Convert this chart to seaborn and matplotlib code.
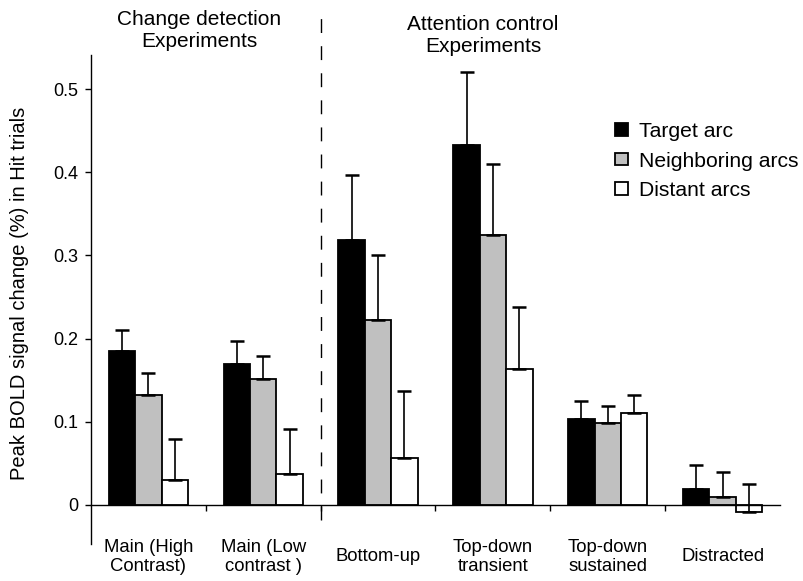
import matplotlib
matplotlib.use("Agg")
import matplotlib.pyplot as plt
from matplotlib.patches import Patch
import numpy as np
import pandas as pd
import seaborn as sns

# ---- data ----
conditions = ["Main (High\nContrast)", "Main (Low\ncontrast )", "Bottom-up",
              "Top-down\ntransient", "Top-down\nsustained", "Distracted"]
series = ["Target arc", "Neighboring arcs", "Distant arcs"]
target_vals = [0.185, 0.170, 0.319, 0.433, 0.103, 0.019]
neighbor_vals = [0.132, 0.151, 0.222, 0.324, 0.098, 0.009]
distant_vals = [0.030, 0.037, 0.056, 0.164, 0.111, -0.008]
target_err = [0.025, 0.027, 0.078, 0.088, 0.022, 0.029]
neighbor_err = [0.027, 0.028, 0.078, 0.086, 0.021, 0.030]
distant_err = [0.049, 0.054, 0.081, 0.074, 0.021, 0.033]
ytick_vals = [0, 0.1, 0.2, 0.3, 0.4, 0.5]
ytick_labels = ["0", "0.1", "0.2", "0.3", "0.4", "0.5"]
group_titles = ["Change detection\nExperiments", "Attention control\nExperiments"]

colors = ["black", "#c0c0c0", "white"]

df = pd.DataFrame({
    "condition": conditions * 3,
    "series": [s for s in series for _ in conditions],
    "value": target_vals + neighbor_vals + distant_vals,
})
errs = [target_err, neighbor_err, distant_err]
vals = [target_vals, neighbor_vals, distant_vals]

sns.set_theme(style="white")
plt.rcParams["font.family"] = ["Liberation Sans", "DejaVu Sans"]
plt.rcParams["text.color"] = "black"
plt.rcParams["axes.labelcolor"] = "black"
plt.rcParams["xtick.color"] = "black"
plt.rcParams["ytick.color"] = "black"

W, H = 804, 581
fig = plt.figure(figsize=(W / 100, H / 100), dpi=100)
# axes in pixel coords: left 91, right 780, top 55, bottom 544
ax = fig.add_axes([91 / W, 1 - 544 / H, (780 - 91) / W, (544 - 55) / H])

sns.barplot(data=df, x="condition", y="value", hue="series", order=conditions,
            hue_order=series, palette=colors, edgecolor="black", linewidth=1.3,
            width=0.69, errorbar=None, ax=ax, legend=False)

# error bars (upper only) placed at the bar centres
for cont, v, e in zip(ax.containers, vals, errs):
    xs = [p.get_x() + p.get_width() / 2 for p in cont.patches]
    ax.errorbar(xs, v, yerr=[np.zeros(len(e)), e], fmt="none", ecolor="black",
                elinewidth=1.2, capsize=5, capthick=1.8, zorder=1)

ax.set_xlim(-0.5, 5.5)
ax.set_ylim(-0.047, 0.541)

for s in ["top", "right"]:
    ax.spines[s].set_visible(False)
ax.spines["left"].set_color("black")
ax.spines["left"].set_linewidth(1.0)
ax.spines["bottom"].set_position(("data", 0))
ax.spines["bottom"].set_color("black")
ax.spines["bottom"].set_linewidth(1.0)

ax.set_yticks(ytick_vals, labels=ytick_labels)
ax.tick_params(axis="y", direction="out", length=4.3, width=1.0, color="black",
               labelcolor="black", pad=5, labelsize=13, left=True)

ax.set_xticks(range(len(conditions)), labels=conditions)
ax.set_xticks([0.5, 1.5, 2.5, 3.5, 4.5], minor=True)
ax.tick_params(axis="x", which="major", length=0, pad=37.4, labelsize=13.3,
               labelcolor="black")
ax.tick_params(axis="x", which="minor", direction="out", length=4.3, width=1.0,
               color="black", bottom=True)
for lbl in ax.get_xticklabels():
    lbl.set_va("center")
    lbl.set_linespacing(1.2)
ax.set_xlabel("")

ax.set_ylabel("Peak BOLD signal change (%) in Hit trials", fontsize=14.5,
              color="black")
ax.yaxis.set_label_coords(-62 / (780 - 91), (544 - 293) / (544 - 55))

# dashed separator
ax.axvline(1.5, ymin=(544 - 520) / 489, ymax=(544 - 10) / 489, color="black",
           linewidth=1.0, linestyle=(0, (10, 9.5)), clip_on=False)

fig.text(199 / W, 1 - 30.5 / H, group_titles[0], ha="center", va="center",
         fontsize=15, linespacing=1.2, color="black")
fig.text(483 / W, 1 - 35.5 / H, group_titles[1], ha="center", va="center",
         fontsize=15, linespacing=1.2, color="black")

handles = [Patch(facecolor=c, edgecolor="black", linewidth=1.3) for c in colors]
leg = ax.legend(handles, series, loc="upper left", bbox_to_anchor=(615 / W, 1 - 122 / H),
                bbox_transform=fig.transFigure, frameon=False, fontsize=15.2,
                handlelength=0.6, handleheight=0.55, handletextpad=0.55,
                labelspacing=0.5, borderpad=0, borderaxespad=0)
for t in leg.get_texts():
    t.set_color("black")

fig.savefig("out.png", dpi=100, facecolor="white")
